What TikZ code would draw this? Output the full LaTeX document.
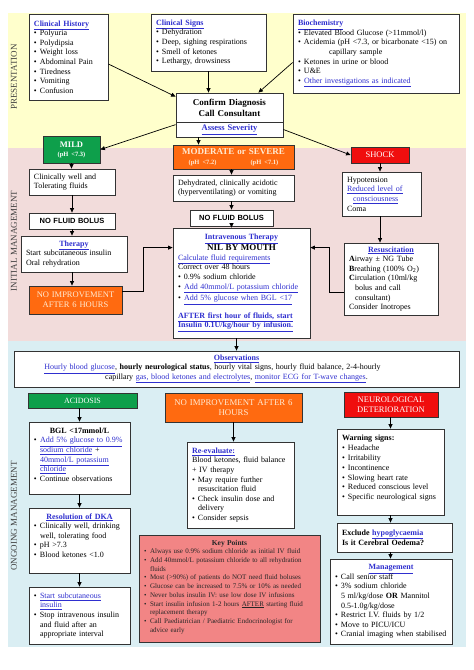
\documentclass[tikz,border=0pt]{standalone}
\usepackage{fontspec}
\usepackage{xcolor}
\usetikzlibrary{arrows.meta}
\setmainfont{Liberation Serif}
\newfontfamily\arialfont{Liberation Sans}

\definecolor{bandyellow}{HTML}{FFFFCC}
\definecolor{bandpink}{HTML}{F2DCDB}
\definecolor{bandblue}{HTML}{DAEEF3}
\definecolor{mildgreen}{HTML}{0E9F4B}
\definecolor{modorange}{HTML}{FF6A10}
\definecolor{shockred}{HTML}{F00E0E}
\definecolor{keyred}{HTML}{F28585}
\definecolor{linkblue}{HTML}{2F2FCF}
\definecolor{paletext}{HTML}{FFEAD2}

\newcommand{\lnk}[1]{\textcolor{linkblue}{\underline{#1}}}
\newcommand{\lnkb}[1]{\textcolor{linkblue}{\textbf{\underline{#1}}}}
\newcommand{\bul}{\makebox[6pt][l]{\textbullet}}
\newcommand{\ind}{\hspace*{6pt}}
\newcommand{\ctr}[1]{\makebox[\linewidth]{#1}}
\newcommand{\padb}[1]{\rule[-#1]{0pt}{#1}}

\begin{document}
\begin{tikzpicture}[x=1pt, y=-1pt]
        % Define styles
        \tikzset{
            box/.style={rectangle, draw=black!80, line width=0.8pt, fill=white, inner xsep=5pt, inner ysep=2pt, align=left, font=\fontsize{8}{9.6}\selectfont},
            boxsize/.code 2 args={\pgfmathsetlengthmacro\boxtw{#1pt-10pt}\pgfkeysalso{minimum width=#1pt, minimum height=#2pt, text width=\boxtw}},
            header/.style={box, align=center, text=white, font=\fontsize{8.5}{10}\selectfont},
            bolus/.style={box, align=center, font=\arialfont\bfseries\fontsize{7.5}{9}\selectfont},
            bandlabel/.style={rotate=90, font=\fontsize{9}{10}\selectfont, text=black!75},
            arrow/.style={->, >={Triangle[length=4.5pt, width=4pt]}, line width=0.7pt}
        }
        \useasboundingbox (0,0) rectangle (474,670);

        % Bands
        \fill[bandyellow] (8,13) rectangle (466,148);
        \fill[bandpink] (8,148) rectangle (466,341);
        \fill[bandblue] (8,341) rectangle (466,647);
        \node[bandlabel] (presentation_label) at (14,77) {PRESENTATION};
        \node[bandlabel] (initial_label) at (14,241) {INITIAL MANAGEMENT};
        \node[bandlabel] (ongoing_label) at (14,516) {ONGOING MANAGEMENT};

        % Presentation
        \node[box, boxsize={79}{86}] (history_node) at (68.5,57) {\lnkb{Clinical History}\\ \bul Polyuria\\ \bul Polydipsia\\ \bul Weight loss\\ \bul Abdominal Pain\\ \bul Tiredness\\ \bul Vomiting\\ \bul Confusion};
        \node[box, boxsize={115}{57}] (signs_node) at (208.5,42.5) {\lnkb{Clinical Signs}\\ \bul Dehydration\\ \bul Deep, sighing respirations\\ \bul Smell of ketones\\ \bul Lethargy, drowsiness};
        \node[box, boxsize={166}{79}] (biochem_node) at (376,53.5) {\lnkb{Biochemistry}\\ \bul Elevated Blood Glucose (>11mmol/l)\\ \bul Acidemia (pH <7.3, or bicarbonate <15) on\\ \hspace*{31pt}capillary sample\\ \bul Ketones in urine or blood\\ \bul U\&E\\ \bul\lnk{Other investigations as indicated}};
        \node[box, boxsize={107}{29}, align=center, font=\bfseries\fontsize{9}{11}\selectfont] (confirm_node) at (229.5,107.5) {Confirm Diagnosis\\ Call Consultant};
        \node[box, boxsize={107}{15}, align=center, font=\bfseries\fontsize{8.5}{10}\selectfont] (assess_node) at (229.5,129.5) {\lnk{Assess Severity}};

        % Severity
        \node[header, fill=mildgreen, boxsize={57}{27}, font=\bfseries\fontsize{8.5}{9}\selectfont] (mild_node) at (71.5,149.5) {MILD\\ {\fontsize{6.5}{8}\selectfont (pH <7.3)}};
        \node[header, fill=modorange, text=paletext, boxsize={121}{24}, font=\bfseries\fontsize{9}{9.5}\selectfont] (moderate_node) at (233.5,157) {MODERATE or SEVERE\\ {\fontsize{6.5}{8}\selectfont (pH <7.2)\hspace{34pt}(pH <7.1)}};
        \node[header, fill=shockred, boxsize={58}{16}] (shock_node) at (380,155) {SHOCK};

        % Initial management
        \node[box, boxsize={86}{26}] (well_node) at (72,182) {Clinically well and\\ Tolerating fluids};
        \node[bolus, boxsize={86}{16}] (nfb_node_1) at (72,221) {NO FLUID BOLUS};
        \node[box, boxsize={106}{36}] (therapy_node) at (74,254) {\ctr{\lnkb{Therapy}}\\ Start subcutaneous insulin\\ Oral rehydration};
        \node[header, fill=modorange, text=paletext, boxsize={93}{28}] (noimp_node_1) at (75.5,300) {NO IMPROVEMENT\\ AFTER 6 HOURS};

        \node[box, boxsize={121}{26}] (dehyd_node) at (233.5,188) {Dehydrated, clinically acidotic\\ (hyperventilating) or vomiting};
        \node[bolus, boxsize={83}{16}] (nfb_node_2) at (231.5,218) {NO FLUID BOLUS};
        \node[box, boxsize={137}{110}] (iv_node) at (241.5,283) {\ctr{\lnkb{Intravenous Therapy}}\\ \ctr{\fontsize{9}{9.6}\selectfont\textbf{NIL BY MOUTH}}\\ \lnk{Calculate fluid requirements}\\ Correct over 48 hours\\ \bul 0.9\% sodium chloride\\ \bul\lnk{Add 40mmol/L potassium chloride}\\[2pt] \bul\lnk{Add 5\% glucose when BGL <17}\\[8pt] \lnkb{AFTER first hour of fluids, start}\\ \lnkb{Insulin 0.1U/kg/hour by infusion.}};

        \node[box, boxsize={79}{44}] (hypo_node) at (381.5,194) {Hypotension\\ \lnk{Reduced level of}\\ \ind\lnk{consciousness}\\ Coma};
        \node[box, boxsize={94}{72}] (resus_node) at (391,279) {\ctr{\lnkb{Resuscitation}}\\ \textbf{A}irway ± NG Tube\\ \textbf{B}reathing (100\% O\textsubscript{2})\\ \textbf{C}irculation (10ml/kg\\ \ind bolus and call\\ \ind consultant)\\ Consider Inotropes};

        % Observations
        \node[box, boxsize={445}{36}, align=center] (obs_node) at (236.5,369) {\lnkb{Observations}\\ \lnk{Hourly blood glucose}, \textbf{hourly neurological status}, hourly vital signs, hourly fluid balance, 2-4-hourly\hspace*{48pt}\mbox{}\\ capillary \lnk{gas, blood ketones and electrolytes}, \lnk{monitor ECG for T-wave changes}.};

        % Ongoing management
        \node[header, fill=mildgreen, boxsize={109}{15}, font=\fontsize{8}{9}\selectfont] (acid_node) at (82.5,400.5) {ACIDOSIS};
        \node[header, fill=modorange, text=paletext, boxsize={137}{29}, font=\fontsize{8.8}{10.5}\selectfont] (noimp_node_2) at (233.5,407.5) {NO IMPROVEMENT AFTER 6\\ HOURS};
        \node[header, fill=shockred, boxsize={94}{25}] (neuro_node) at (391,404.5) {NEUROLOGICAL\\ DETERIORATION};

        \node[box, boxsize={101}{72}] (bgl_node) at (79.5,458) {\ctr{\textbf{BGL <17mmol/L}}\\ \bul\lnk{Add 5\% glucose to 0.9\%}\\ \ind\lnk{sodium chloride} +\\ \ind\lnk{40mmol/L potassium}\\ \ind\lnk{chloride}\\ \bul Continue observations\padb{7pt}};
        \node[box, boxsize={101}{65}] (res_node) at (79.5,540.5) {\ctr{\lnkb{Resolution of DKA}}\\ \bul Clinically well, drinking\\ \ind well, tolerating food\\ \bul pH >7.3\\ \bul Blood ketones <1.0\padb{10pt}};
        \node[box, boxsize={101}{57}] (start_node) at (79.5,615.5) {\bul\lnk{Start subcutaneous}\\ \ind\lnk{insulin}\\ \bul Stop intravenous insulin\\ \ind and fluid after an\\ \ind appropriate interval};

        \node[box, boxsize={107}{86}] (reeval_node) at (240.5,485) {\lnkb{Re-evaluate:}\\ Blood ketones, fluid balance\\ + IV therapy\\ \bul May require further\\ \ind resuscitation fluid\\ \bul Check insulin dose and\\ \ind delivery\\ \bul Consider sepsis};
        \node[box, fill=keyred, text=black!85, boxsize={181}{107}, font=\fontsize{7}{8.7}\selectfont] (key_node) at (229.5,588.5) {\ctr{\fontsize{7.5}{8.7}\selectfont\textbf{Key Points}}\\ \bul Always use 0.9\% sodium chloride as initial IV fluid\\ \bul Add 40mmol/L potassium chloride to all rehydration\\ \ind fluids\\ \bul Most (>90\%) of patients do NOT need fluid boluses\\ \bul Glucose can be increased to 7.5\% or 10\% as needed\\ \bul Never bolus insulin IV: use low dose IV infusions\\ \bul Start insulin infusion 1-2 hours \underline{AFTER} starting fluid\\ \ind replacement therapy\\ \bul Call Paediatrician / Paediatric Endocrinologist for\\ \ind advice early\padb{5pt}};

        \node[box, boxsize={107}{86}, font=\fontsize{8}{9.8}\selectfont] (warn_node) at (390.5,472) {\textbf{Warning signs:}\\ \bul Headache\\ \bul Irritability\\ \bul Incontinence\\ \bul Slowing heart rate\\ \bul Reduced conscious level\\ \bul Specific neurological signs\padb{9pt}};
        \node[box, boxsize={115}{29}, font=\bfseries\fontsize{8}{9.6}\selectfont] (excl_node) at (394.5,537.5) {Exclude \lnk{hypoglycaemia}\\ Is it Cerebral Oedema?};
        \node[box, boxsize={122}{85}] (mgmt_node) at (391,601.5) {\ctr{\lnkb{Management}}\\ \bul Call senior staff\\ \bul 3\% sodium chloride\\ \ind 5 ml/kg/dose \textbf{OR} Mannitol\\ \ind 0.5-1.0g/kg/dose\\ \bul Restrict I.V. fluids by 1/2\\ \bul Move to PICU/ICU\\ \bul Cranial imaging when stabilised};

        % Arrows
        \draw[arrow] ([yshift=-7pt]history_node.east) -- ([yshift=-4pt]confirm_node.north west);
        \draw[arrow] (signs_node.south) -- (signs_node.south |- confirm_node.north);
        \draw[arrow] ([yshift=-9pt]biochem_node.west) -- ([xshift=-25pt]confirm_node.north east);
        \draw[arrow] ([yshift=-3pt]assess_node.north west) -- (mild_node.east);
        \draw[arrow] ([xshift=-31pt]assess_node.south) -- ([xshift=-31pt]assess_node.south |- moderate_node.north);
        \draw[arrow] (assess_node.east) -- (shock_node.west);

        \draw[arrow] (mild_node.south) -- (mild_node.south |- well_node.north);
        \draw[arrow] (well_node.south) -- (nfb_node_1.north);
        \draw[arrow] (nfb_node_1.south) -- (nfb_node_1.south |- therapy_node.north);
        \draw[arrow] (nfb_node_1.south |- therapy_node.south) -- (nfb_node_1.south |- noimp_node_1.north);
        \draw[arrow] ([yshift=-6pt]noimp_node_1.north east) -- ++(21,0) |- ([yshift=-20pt]iv_node.north west);

        \draw[arrow] (moderate_node.south -| nfb_node_2.north) -- (dehyd_node.north -| nfb_node_2.north);
        \draw[arrow] (dehyd_node.south -| nfb_node_2.north) -- (nfb_node_2.north);
        \draw[arrow] (nfb_node_2.south) -- (nfb_node_2.south |- iv_node.north);

        \draw[arrow] (shock_node.south) -- (shock_node.south |- hypo_node.north);
        \draw[arrow] (shock_node.south |- hypo_node.south) -- (shock_node.south |- resus_node.north);
        \draw[arrow] ([yshift=-13pt]resus_node.west) -- ++(-14,0) |- ([yshift=-20pt]iv_node.north east);

        \draw[arrow] ([xshift=-5pt]iv_node.south) -- ([xshift=-5pt]iv_node.south |- obs_node.north);

        \draw[arrow] (acid_node.south -| bgl_node.north) -- (bgl_node.north);
        \draw[arrow] (bgl_node.south) -- (res_node.north);
        \draw[arrow] (res_node.south) -- (start_node.north);
        \draw[arrow] (noimp_node_2.south) -- (noimp_node_2.south |- reeval_node.north);
        \draw[arrow] (neuro_node.south -| warn_node.north) -- (warn_node.north);
        \draw[arrow] (warn_node.south) -- (warn_node.south |- excl_node.north);
        \draw[arrow] (warn_node.south |- excl_node.south) -- (warn_node.south |- mgmt_node.north);
\end{tikzpicture}
\end{document}
